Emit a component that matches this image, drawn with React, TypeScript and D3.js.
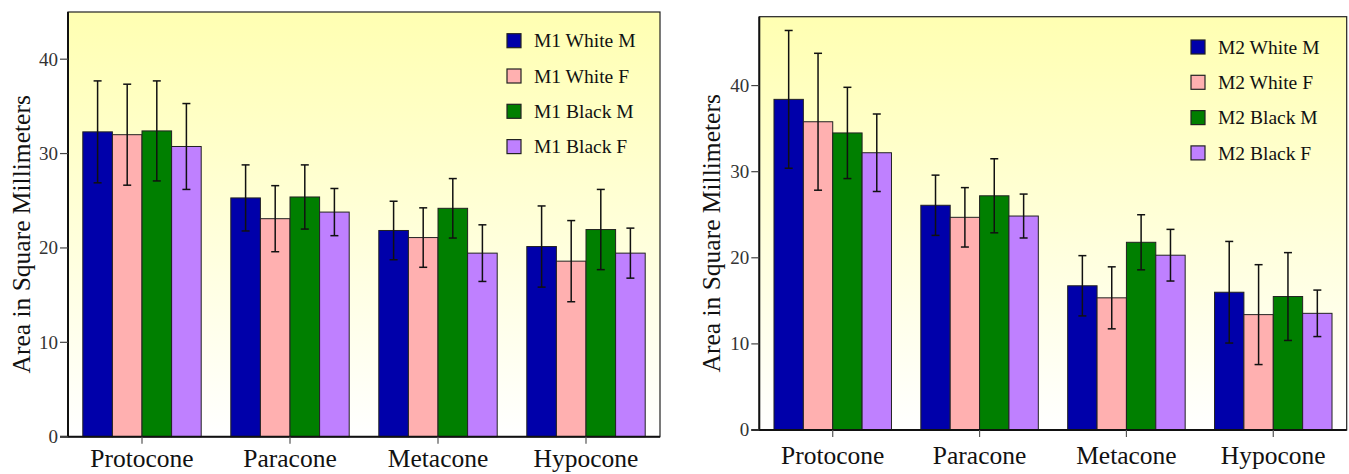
import React from "react";
import * as d3 from "d3";

const categories = ["Protocone", "Paracone", "Metacone", "Hypocone"];
const yTicks = [0, 10, 20, 30, 40];

const m1Series = ["M1 White M", "M1 White F", "M1 Black M", "M1 Black F"];
const m1WhiteM = [32.3, 25.3, 21.85, 20.15];
const m1WhiteMErr = [5.4, 3.5, 3.1, 4.3];
const m1WhiteF = [32.0, 23.1, 21.1, 18.6];
const m1WhiteFErr = [5.35, 3.5, 3.15, 4.3];
const m1BlackM = [32.4, 25.4, 24.2, 21.95];
const m1BlackMErr = [5.3, 3.4, 3.15, 4.25];
const m1BlackF = [30.75, 23.8, 19.45, 19.45];
const m1BlackFErr = [4.55, 2.5, 3.0, 2.65];

const m2Series = ["M2 White M", "M2 White F", "M2 Black M", "M2 Black F"];
const m2WhiteM = [38.4, 26.1, 16.75, 16.0];
const m2WhiteMErr = [8.0, 3.5, 3.5, 5.9];
const m2WhiteF = [35.8, 24.7, 15.35, 13.4];
const m2WhiteFErr = [7.95, 3.45, 3.6, 5.8];
const m2BlackM = [34.5, 27.2, 21.8, 15.5];
const m2BlackMErr = [5.3, 4.3, 3.2, 5.1];
const m2BlackF = [32.2, 24.85, 20.3, 13.55];
const m2BlackFErr = [4.5, 2.55, 3.0, 2.7];

const colors = ["#0000AA", "#FFB0B0", "#007F00", "#BF80FF"];

type PanelProps = {
  id: string;
  x0: number;
  x1: number;
  y0: number;
  y1: number;
  yMax: number;
  series: string[];
  values: number[][];
  errors: number[][];
  legendX: number;
  legendY: number;
  ylabelX: number;
  catY: number;
};

const FONT = "'Liberation Serif', 'Times New Roman', serif";

function Panel(p: PanelProps) {
  const x = d3.scaleBand<string>().domain(categories).range([p.x0, p.x1]).paddingInner(0.2).paddingOuter(0.1);
  const xs = d3.scaleBand<string>().domain(p.series).range([0, x.bandwidth()]).padding(0);
  const y = d3.scaleLinear().domain([0, p.yMax]).range([p.y1, p.y0]);
  const capW = 8;
  return (
    <g>
      <defs>
        <linearGradient id={`bg-${p.id}`} x1="0" y1="0" x2="0" y2="1">
          <stop offset="0%" stopColor="#FFFFB2" />
          <stop offset="100%" stopColor="#FFFFFF" />
        </linearGradient>
      </defs>
      <rect x={p.x0} y={p.y0} width={p.x1 - p.x0} height={p.y1 - p.y0} fill={`url(#bg-${p.id})`} stroke="#222" strokeWidth={1.2} />
      {p.series.map((s, si) =>
        categories.map((c, ci) => {
          const v = p.values[si][ci];
          const bx = (x(c) as number) + (xs(s) as number);
          return (
            <rect key={`${s}-${c}`} x={bx} y={y(v)} width={xs.bandwidth()} height={y(0) - y(v)} fill={colors[si]} stroke="#222" strokeWidth={1} />
          );
        })
      )}
      {p.series.map((s, si) =>
        categories.map((c, ci) => {
          const v = p.values[si][ci];
          const e = p.errors[si][ci];
          const cx = (x(c) as number) + (xs(s) as number) + xs.bandwidth() / 2;
          return (
            <g key={`e-${s}-${c}`} stroke="#111" strokeWidth={1.5}>
              <line x1={cx} x2={cx} y1={y(v + e)} y2={y(v - e)} />
              <line x1={cx - capW / 2} x2={cx + capW / 2} y1={y(v + e)} y2={y(v + e)} />
              <line x1={cx - capW / 2} x2={cx + capW / 2} y1={y(v - e)} y2={y(v - e)} />
            </g>
          );
        })
      )}
      {/* axes */}
      <line x1={p.x0} x2={p.x0} y1={p.y0} y2={p.y1} stroke="#111" strokeWidth={2} />
      <line x1={p.x0 - 8} x2={p.x1} y1={p.y1} y2={p.y1} stroke="#111" strokeWidth={2} />
      {yTicks.map((t) => (
        <g key={`yt-${t}`}>
          <line x1={p.x0 - 8} x2={p.x0} y1={y(t)} y2={y(t)} stroke="#444" strokeWidth={1.2} />
          <text x={p.x0 - 10} y={y(t)} dy="0.34em" textAnchor="end" fontFamily={FONT} fontSize={19} fill="#333">
            {t}
          </text>
        </g>
      ))}
      {categories.map((c) => {
        const cx = (x(c) as number) + x.bandwidth() / 2;
        return (
          <g key={`xt-${c}`}>
            <line x1={cx} x2={cx} y1={p.y1} y2={p.y1 + 7} stroke="#555" strokeWidth={1.2} />
            <text x={cx} y={p.catY} textAnchor="middle" fontFamily={FONT} fontSize={25.5} fill="#111">
              {c}
            </text>
          </g>
        );
      })}
      <text
        transform={`translate(${p.ylabelX},${(p.y0 + p.y1) / 2 + 10}) rotate(-90)`}
        textAnchor="middle"
        fontFamily={FONT}
        fontSize={25.5}
        fill="#111"
      >
        Area in Square Millimeters
      </text>
      {p.series.map((s, si) => {
        const cy = p.legendY + si * 35.3;
        return (
          <g key={`lg-${s}`}>
            <rect x={p.legendX} y={cy - 7} width={14} height={14} fill={colors[si]} stroke="#222" strokeWidth={1.2} />
            <text x={p.legendX + 27} y={cy} dy="0.34em" fontFamily={FONT} fontSize={19.5} fill="#111">
              {s}
            </text>
          </g>
        );
      })}
    </g>
  );
}

export default function App() {
  return (
    <svg width={1349} height={474} style={{ position: "absolute", left: 0, top: 0, display: "block" }}>
      <rect x={0} y={0} width={1349} height={474} fill="#fff" />
      <Panel
        id="m1"
        x0={68}
        x1={660}
        y0={12}
        y1={436.7}
        yMax={45}
        series={m1Series}
        values={[m1WhiteM, m1WhiteF, m1BlackM, m1BlackF]}
        errors={[m1WhiteMErr, m1WhiteFErr, m1BlackMErr, m1BlackFErr]}
        legendX={507}
        legendY={40.7}
        ylabelX={30}
        catY={467}
      />
      <Panel
        id="m2"
        x0={759.3}
        x1={1346.7}
        y0={16.7}
        y1={430}
        yMax={48}
        series={m2Series}
        values={[m2WhiteM, m2WhiteF, m2BlackM, m2BlackF]}
        errors={[m2WhiteMErr, m2WhiteFErr, m2BlackMErr, m2BlackFErr]}
        legendX={1191}
        legendY={47}
        ylabelX={720}
        catY={464}
      />
    </svg>
  );
}
